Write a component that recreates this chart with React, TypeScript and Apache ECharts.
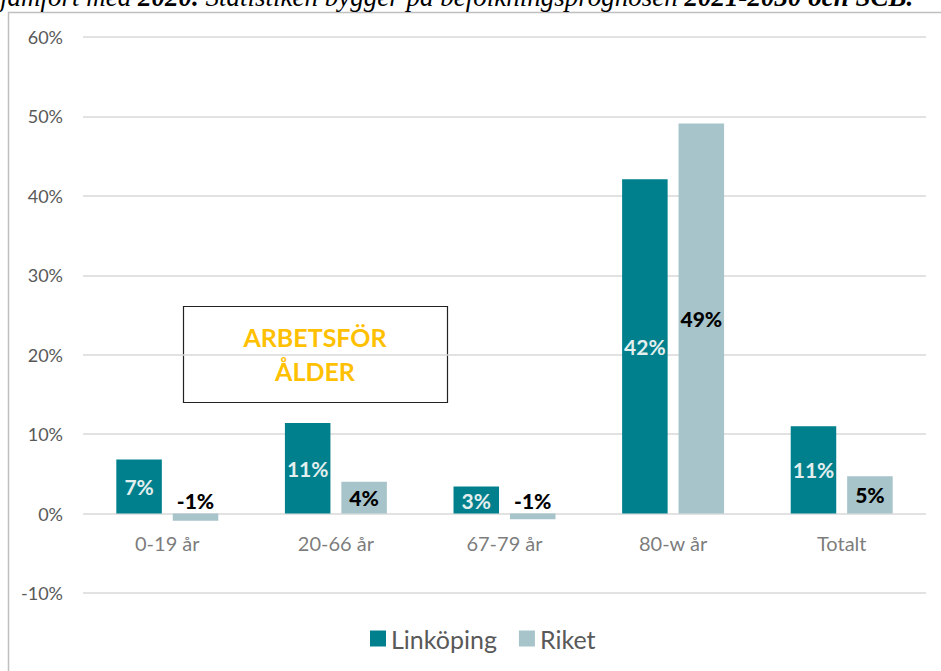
import React, { useEffect, useRef } from "react";
import * as echarts from "echarts";

const categories = ["0-19 år", "20-66 år", "67-79 år", "80-w år", "Totalt"];
const linkoping = [6.8, 11.4, 3.4, 42.1, 11.0];
const riket = [-0.9, 4.0, -0.7, 49.1, 4.7];
const linkopingLabels = ["7%", "11%", "3%", "42%", "11%"];
const riketLabels = ["-1%", "4%", "-1%", "49%", "5%"];
const yTicks = { min: -10, max: 60, interval: 10 };

const FONT = "Lato, 'Open Sans', sans-serif";

export default function App() {
  const ref = useRef<HTMLDivElement>(null);
  useEffect(() => {
    if (!ref.current) return;
    const chart = echarts.init(ref.current, null, { renderer: "svg" });
    chart.setOption({
      animation: false,
      backgroundColor: "#ffffff",
      textStyle: { fontFamily: FONT },
      grid: { left: 83, right: 15, top: 37, bottom: 78, containLabel: false },
      legend: {
        data: ["Linköping", "Riket"],
        bottom: 15,
        left: 365,
        icon: "rect",
        itemWidth: 16,
        itemHeight: 16,
        itemGap: 22,
        textStyle: { fontSize: 25, color: "#595959", fontFamily: FONT },
      },
      xAxis: {
        type: "category",
        data: categories,
        axisLine: { show: false },
        axisTick: { show: false },
        axisLabel: { show: false },
      },
      yAxis: {
        type: "value",
        min: yTicks.min,
        max: yTicks.max,
        interval: yTicks.interval,
        axisLine: { show: false },
        axisTick: { show: false },
        axisLabel: {
          fontSize: 18,
          color: "#595959",
          margin: 20,
          fontFamily: FONT,
          formatter: (v: number) => `${v}%`,
        },
        splitLine: { lineStyle: { color: "#d9d9d9", width: 1.5 } },
      },
      series: [
        {
          name: "Linköping",
          type: "bar",
          barWidth: "27%",
          barGap: "24%",
          itemStyle: { color: "#00808C" },
          label: {
            show: true,
            position: "inside",
            color: "#E3EFEF",
            fontWeight: "bold",
            fontSize: 21,
            fontFamily: FONT,
            formatter: (p: any) => linkopingLabels[p.dataIndex],
          },
          data: linkoping,
        },
        {
          name: "Riket",
          type: "bar",
          barWidth: "27%",
          itemStyle: { color: "#A7C4CA" },
          label: {
            show: true,
            position: "inside",
            color: "#000000",
            fontWeight: 900,
            fontSize: 21,
            fontFamily: FONT,
            formatter: (p: any) => riketLabels[p.dataIndex],
          },
          data: riket.map((v) =>
            v < 0 ? { value: v, label: { position: "top", distance: 3 } } : v
          ),
        },
        {
          name: "axisLabels",
          type: "scatter",
          silent: true,
          symbolSize: 0,
          itemStyle: { color: "transparent" },
          label: {
            show: true,
            position: "bottom",
            distance: 19,
            fontSize: 20,
            color: "#595959",
            fontFamily: FONT,
            formatter: (p: any) => categories[p.dataIndex],
          },
          data: categories.map((c) => [c, 0]),
        },
      ],
      graphic: [
        {
          type: "rect",
          silent: true,
          shape: { x: 8.5, y: 12.5, width: 1200, height: 1200 },
          style: { fill: "none", stroke: "#bfbfbf", lineWidth: 1.5 },
        },
        {
          type: "text",
          silent: true,
          left: 0,
          top: -17,
          style: {
            text: "{i|jämfört med }{b|2020.}{i| Statistiken bygger på befolkningsprognosen }{b|2021-2030 och SCB.}",
            rich: {
              i: { fontFamily: "'Liberation Serif', serif", fontStyle: "italic", fontSize: 27, fill: "#000" },
              b: { fontFamily: "'Liberation Serif', serif", fontStyle: "italic", fontWeight: "bold", fontSize: 27, fill: "#000" },
            },
          },
        },
        {
          type: "rect",
          silent: true,
          shape: { x: 183.5, y: 306.5, width: 264, height: 96 },
          style: { fill: "none", stroke: "#222222", lineWidth: 1.2 },
        },
        {
          type: "text",
          silent: true,
          x: 315,
          y: 354,
          style: {
            text: "ARBETSFÖR\nÅLDER",
            fill: "#FFC000",
            fontWeight: "bold",
            fontSize: 25,
            fontFamily: FONT,
            align: "center",
            verticalAlign: "middle",
            lineHeight: 34,
          },
        },
      ],
    });
    return () => chart.dispose();
  }, []);
  return (
    <div
      ref={ref}
      style={{ position: "absolute", left: 0, top: 0, width: 941, height: 671 }}
    />
  );
}
